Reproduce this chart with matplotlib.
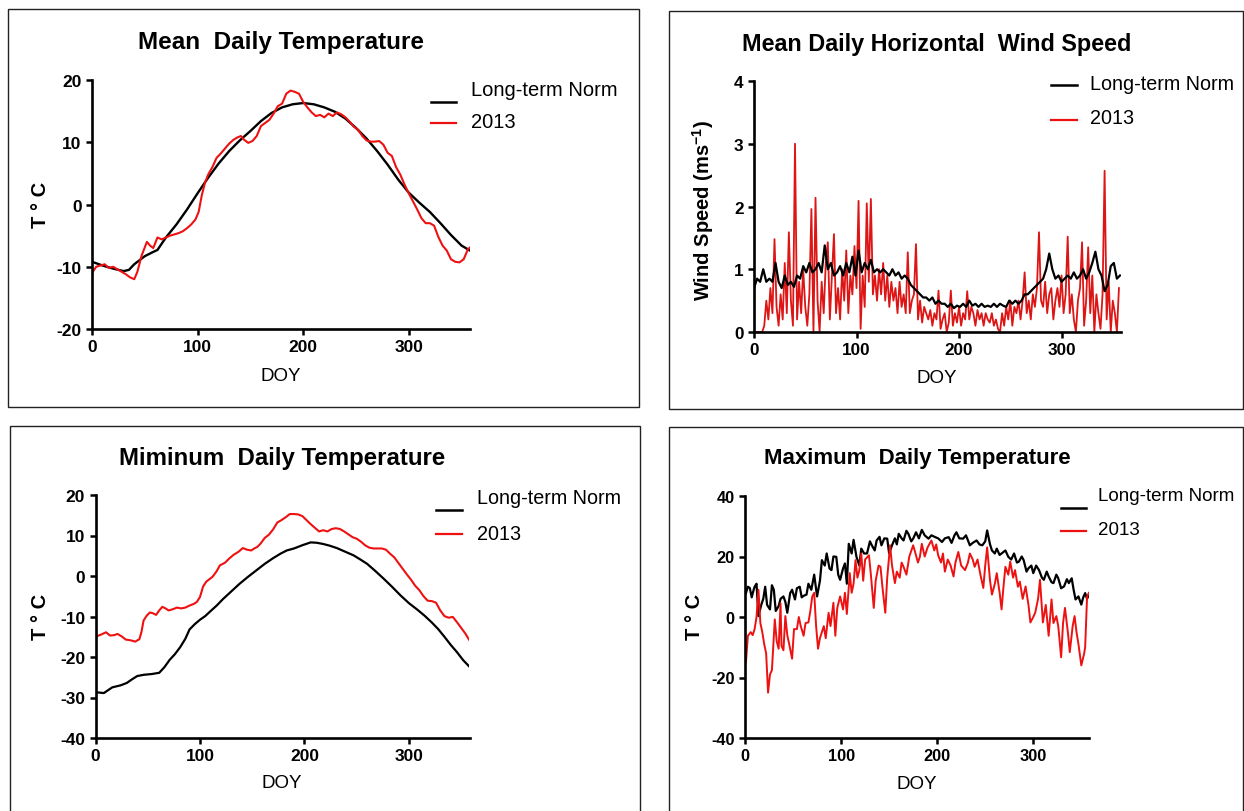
import matplotlib
matplotlib.use("Agg")
import matplotlib.pyplot as plt
from matplotlib.lines import Line2D
from matplotlib.patches import Rectangle

plt.rcParams['font.family'] = ['Liberation Sans', 'DejaVu Sans']
plt.rcParams['mathtext.fontset'] = 'custom'
plt.rcParams['mathtext.rm'] = 'Liberation Sans'
plt.rcParams['mathtext.bf'] = 'Liberation Sans:bold'
plt.rcParams['axes.unicode_minus'] = False

# ---------------- data ----------------
series_labels = ["Long-term Norm", "2013"]
x_ticks = [0, 100, 200, 300]

mean_norm_doy = [0, 10, 20, 30, 35, 40, 50, 57, 62, 70, 80, 90, 100, 110, 120, 130, 140, 150, 160, 170,
                 180, 190, 200, 210, 220, 230, 240, 250, 260, 270, 280, 290, 300, 310, 320, 330, 340, 350, 358]
mean_norm = [-9.2, -9.8, -10.3, -10.7, -10.5, -9.6, -8.3, -7.7, -7.3, -5.3, -3.2, -0.8, 1.8, 4.3, 6.6, 8.6,
             10.3, 11.8, 13.4, 14.7, 15.6, 16.1, 16.3, 16.1, 15.6, 14.9, 13.8, 12.3, 10.6, 8.6, 6.4, 4.0,
             1.9, 0.3, -1.2, -3.0, -4.9, -6.6, -7.4]

mean_2013_doy = [0, 4, 8, 12, 16, 20, 24, 28, 32, 36, 40, 43, 47, 52, 55, 58, 62, 66, 70, 74, 78, 82, 86,
                 90, 94, 98, 101, 104, 107, 110, 114, 118, 122, 126, 130, 134, 138, 141, 144, 148, 152,
                 156, 160, 164, 168, 172, 176, 180, 184, 188, 192, 196, 200, 204, 208, 212, 216, 220, 224,
                 228, 232, 236, 240, 244, 248, 252, 256, 260, 264, 268, 272, 276, 280, 284, 288, 292, 296,
                 300, 304, 308, 312, 316, 320, 324, 328, 332, 336, 340, 344, 348, 352, 356, 358]
mean_2013 = [-11.0, -10.0, -9.8, -9.6, -10.2, -10.0, -10.4, -10.8, -11.2, -11.7, -12.0, -10.8, -8.2, -6.0,
             -6.6, -7.0, -5.3, -5.6, -5.3, -5.0, -4.8, -4.6, -4.3, -3.8, -3.2, -2.4, -1.2, 1.5, 3.5, 4.8,
             6.0, 7.5, 8.2, 9.0, 9.8, 10.4, 10.8, 11.0, 10.4, 9.9, 10.2, 11.0, 12.6, 13.1, 13.6, 14.6,
             15.8, 16.2, 17.8, 18.3, 18.1, 17.8, 16.5, 15.6, 14.8, 14.2, 14.4, 14.0, 14.6, 14.2, 14.8,
             14.5, 14.0, 13.3, 12.5, 12.0, 11.0, 10.3, 10.1, 10.1, 10.2, 9.6, 8.3, 7.8, 6.0, 4.8, 3.2,
             1.8, 0.5, -0.8, -2.2, -3.0, -3.0, -3.4, -5.2, -6.6, -7.4, -8.8, -9.2, -9.3, -8.8, -7.2, -6.9]

wind_norm_doy = list(range(0, 358, 3))
wind_norm = [0.7, 0.85, 0.8, 1.0, 0.8, 0.85, 0.8, 1.1, 0.8, 0.7, 0.9, 0.75, 0.8, 0.72, 0.9, 0.85, 1.05,
             0.95, 1.1, 0.95, 1.0, 1.1, 0.95, 1.38, 1.0, 1.1, 0.9, 0.95, 1.05, 0.9, 1.1, 0.95, 1.2, 0.9,
             1.3, 0.95, 1.1, 1.0, 1.15, 0.95, 1.0, 0.95, 1.0, 0.95, 0.9, 1.0, 0.9, 0.95, 0.85, 0.9, 0.85,
             0.75, 0.7, 0.65, 0.6, 0.55, 0.55, 0.5, 0.55, 0.45, 0.5, 0.45, 0.45, 0.4, 0.45, 0.38, 0.42,
             0.4, 0.45, 0.4, 0.5, 0.42, 0.45, 0.4, 0.45, 0.4, 0.42, 0.4, 0.45, 0.4, 0.45, 0.42, 0.4, 0.5,
             0.45, 0.5, 0.45, 0.5, 0.6, 0.6, 0.65, 0.7, 0.75, 0.8, 0.85, 1.0, 1.25, 1.0, 0.85, 0.9, 0.8,
             0.85, 0.9, 0.85, 0.95, 0.85, 0.9, 1.0, 0.85, 0.95, 1.1, 1.28, 1.0, 0.9, 0.65, 0.75, 1.05,
             1.1, 0.85, 0.9]

wind_2013_doy = list(range(0, 357, 2))
wind_2013 = [0.0, 0.0, 0.0, 0.0, 0.0, 0.1, 0.5, 0.2, 0.7, 0.3,
             1.48, 0.4, 0.1, 0.6, 0.2, 1.1, 0.3, 1.59, 0.5, 0.1,
             3.0, 0.2, 0.8, 0.3, 1.0, 0.4, 0.1, 0.6, 1.96, 0.0,
             2.14, 0.5, 0.0, 0.8, 0.3, 1.1, 1.43, 0.2, 0.9, 1.56,
             0.3, 0.7, 0.2, 1.0, 0.5, 1.3, 0.3, 0.9, 0.6, 1.37,
             0.7, 2.09, 0.05, 0.9, 0.4, 2.05, 0.8, 2.12, 0.6, 0.9,
             0.5, 1.0, 0.6, 1.1, 0.5, 0.9, 0.4, 0.8, 0.5, 0.7,
             0.3, 0.8, 0.4, 0.6, 0.3, 1.27, 0.3, 0.5, 0.6, 1.4,
             0.2, 0.5, 0.15, 0.4, 0.3, 0.2, 0.35, 0.1, 0.3, 0.2,
             0.66, 0.05, 0.2, 0.3, 0.0, 0.15, 0.66, 0.1, 0.3, 0.15,
             0.4, 0.1, 0.3, 0.2, 0.65, 0.2, 0.4, 0.3, 0.1, 0.35,
             0.2, 0.3, 0.1, 0.3, 0.2, 0.15, 0.3, 0.1, 0.2, 0.05,
             0.0, 0.3, 0.1, 0.4, 0.2, 0.5, 0.1, 0.4, 0.3, 0.5,
             0.2, 0.5, 0.95, 0.3, 0.5, 0.2, 0.6, 0.4, 0.7, 1.59,
             0.5, 0.4, 0.8, 0.3, 0.6, 0.7, 0.2, 0.5, 0.7, 0.4,
             0.9, 0.3, 0.6, 1.52, 0.3, 0.6, 0.2, 0.0, 0.5, 0.7,
             1.43, 0.1, 0.5, 1.35, 0.3, 0.9, 0.0, 0.6, 0.3, 0.05,
             0.6, 2.57, 0.2, 0.8, 0.0, 0.5, 0.3, 0.0, 0.7]

min_norm_doy = [0, 8, 16, 24, 30, 35, 40, 46, 54, 61, 66, 71, 76, 81, 86, 90, 95, 100, 105, 110, 116,
                122, 130, 138, 146, 154, 162, 170, 177, 183, 190, 198, 206, 212, 218, 224, 231, 239, 247,
                254, 260, 268, 276, 284, 292, 300, 308, 315, 322, 328, 334, 340, 346, 352, 358]
min_norm = [-28.7, -28.9, -27.5, -27.0, -26.4, -25.5, -24.7, -24.4, -24.2, -23.9, -22.5, -20.7, -19.3,
            -17.6, -15.5, -13.2, -11.9, -10.8, -9.9, -8.7, -7.3, -5.7, -3.8, -1.9, -0.2, 1.4, 3.0, 4.4,
            5.5, 6.3, 6.8, 7.6, 8.3, 8.2, 7.9, 7.5, 6.9, 6.0, 5.1, 4.0, 3.0, 1.2, -0.7, -2.7, -4.8, -6.7,
            -8.3, -9.8, -11.5, -13.1, -15.0, -17.0, -18.8, -20.8, -22.4]

min_2013_doy = [0, 5, 10, 14, 18, 21, 25, 29, 34, 38, 42, 44, 46, 49, 52, 55, 58, 61, 64, 67, 70, 74, 78,
                82, 86, 90, 94, 97, 100, 103, 106, 109, 112, 116, 119, 124, 128, 132, 137, 141, 145, 149,
                152, 155, 158, 162, 166, 170, 174, 178, 182, 186, 190, 194, 198, 202, 206, 210, 214, 218,
                222, 226, 230, 234, 238, 242, 246, 250, 254, 258, 262, 266, 270, 274, 278, 282, 286, 290,
                294, 298, 302, 306, 310, 314, 318, 322, 326, 330, 334, 338, 342, 346, 350, 354, 358]
min_2013 = [-15.0, -14.5, -13.9, -14.7, -14.6, -14.3, -14.9, -15.7, -15.9, -16.2, -15.6, -13.8, -11.0,
            -9.8, -9.0, -9.2, -9.6, -8.5, -7.6, -8.0, -8.5, -8.2, -7.8, -8.0, -7.8, -7.3, -6.9, -6.4,
            -5.2, -2.6, -1.4, -0.8, -0.2, 1.2, 2.6, 3.3, 4.3, 5.2, 6.0, 6.9, 6.5, 6.3, 6.8, 7.2, 8.0,
            9.4, 10.2, 11.5, 13.2, 13.8, 14.5, 15.3, 15.3, 15.2, 14.8, 13.8, 12.8, 11.9, 11.0, 11.3,
            11.0, 11.6, 11.8, 11.6, 11.0, 10.3, 9.6, 9.2, 8.5, 7.6, 7.0, 6.8, 6.8, 6.8, 6.5, 5.5, 4.6,
            3.2, 1.8, 0.4, -0.9, -2.4, -3.5, -5.0, -6.1, -6.2, -6.6, -8.5, -9.9, -10.3, -10.1, -11.4,
            -12.8, -14.2, -15.9]

max_norm_doy = [1, 3, 5, 7, 9, 10, 12, 14, 17, 19, 21, 23, 26, 28, 30, 32, 35, 37, 40, 42, 44, 47, 49,
                52, 54, 57, 59, 61, 64, 66, 69, 72, 75, 78, 80, 83, 85, 88, 90, 92, 95, 97, 99, 102, 104,
                106, 108, 111, 113, 116, 119, 121, 124, 127, 130, 132, 135, 137, 140, 142, 145, 148, 150,
                153, 156, 158, 160, 163, 165, 168, 170, 173, 175, 178, 181, 184, 187, 191, 194, 198, 201,
                205, 208, 212, 215, 218, 220, 223, 227, 230, 234, 237, 241, 244, 247, 250, 252, 255, 257,
                260, 262, 265, 267, 271, 274, 277, 280, 283, 285, 288, 290, 293, 295, 298, 300, 303, 306,
                309, 311, 314, 316, 319, 321, 324, 326, 329, 332, 335, 337, 340, 342, 344, 347, 350, 352,
                354, 356, 358]
max_norm = [7.9, 10.0, 9.6, 6.5, 9.0, 10.0, 11.0, 0.3, 4.1, 6.0, 10.0, 4.0, 2.5, 10.5, 9.0, 2.0, 3.6, 6.0,
            6.8, 5.0, 1.4, 7.9, 9.0, 5.8, 9.5, 10.0, 6.5, 7.0, 7.4, 11.0, 9.0, 14.0, 6.8, 12.0, 18.8,
            17.0, 21.0, 16.0, 15.5, 20.0, 19.9, 14.0, 12.3, 16.0, 17.7, 11.0, 24.2, 21.0, 25.5, 19.9,
            17.0, 22.6, 21.0, 21.0, 25.0, 23.7, 22.0, 25.3, 26.5, 23.7, 26.0, 25.9, 21.0, 23.7, 26.0,
            24.0, 27.5, 26.0, 25.3, 28.5, 27.5, 25.0, 25.9, 28.0, 26.0, 28.8, 27.0, 25.9, 27.0, 26.4,
            26.0, 24.8, 26.0, 26.4, 24.5, 27.0, 28.0, 26.0, 25.9, 27.0, 23.7, 24.5, 25.3, 24.0, 23.7,
            25.0, 28.6, 24.0, 22.0, 21.0, 22.6, 20.5, 21.0, 22.0, 19.9, 19.0, 21.0, 18.0, 18.3, 20.0,
            18.8, 15.0, 16.1, 17.0, 14.5, 17.0, 15.5, 13.0, 12.3, 15.0, 13.4, 11.5, 11.2, 14.0, 12.8,
            9.5, 10.1, 12.5, 11.2, 12.8, 9.0, 5.8, 6.8, 4.1, 6.5, 7.9, 6.0, 7.5]

max_2013_doy = [1, 3, 6, 8, 10, 12, 14, 16, 18, 20, 22, 24, 26, 28, 31, 33, 35, 37, 38, 40, 42, 44, 46,
                49, 51, 54, 56, 58, 61, 63, 66, 68, 70, 72, 74, 76, 78, 80, 82, 84, 87, 89, 92, 94, 96,
                99, 102, 104, 106, 109, 111, 113, 115, 117, 119, 121, 123, 125, 129, 131, 134, 136, 139,
                141, 143, 146, 148, 151, 153, 156, 158, 161, 163, 165, 168, 171, 175, 177, 180, 182, 184,
                187, 190, 194, 197, 199, 201, 204, 206, 208, 211, 214, 217, 219, 222, 225, 229, 232, 234,
                237, 239, 242, 245, 248, 250, 252, 255, 257, 260, 262, 265, 267, 269, 271, 274, 276, 279,
                281, 284, 286, 289, 292, 295, 297, 300, 302, 305, 307, 309, 310, 313, 316, 319, 321, 324,
                326, 329, 331, 333, 336, 338, 341, 343, 345, 347, 350, 353, 354, 356, 358]
max_2013 = [-14.9, -6.2, -5.0, -6.0, -4.0, 0.0, 9.0, -2.0, -5.0, -9.0, -12.0, -25.0, -19.0, -17.6, -0.8,
            -8.0, -10.5, 4.5, -9.5, -11.0, 0.3, -6.0, -9.0, -13.8, -4.0, -4.0, 0.0, -3.0, -6.2, -2.0,
            -1.8, 2.0, 6.8, 8.0, -3.0, -10.5, -7.0, -5.0, -3.0, -7.0, 1.4, -3.0, 4.7, -6.2, 3.0, 6.8,
            2.5, 8.0, 1.0, 14.5, 8.0, 11.0, 18.8, 13.0, 15.5, 21.0, 12.0, 19.0, 20.4, 14.0, 3.0, 12.0,
            17.0, 16.6, 10.0, 1.4, 13.0, 23.7, 17.0, 11.2, 15.0, 13.0, 18.0, 16.6, 14.0, 20.0, 23.7,
            21.5, 18.0, 19.9, 24.2, 20.0, 23.0, 25.3, 22.0, 24.0, 20.4, 18.0, 21.0, 15.0, 19.0, 17.0,
            13.4, 18.0, 21.5, 17.0, 15.5, 18.0, 21.0, 19.0, 16.6, 19.0, 14.0, 9.6, 17.0, 23.0, 12.0,
            7.4, 11.0, 14.5, 8.0, 2.5, 10.0, 16.6, 14.0, 18.3, 13.0, 15.5, 10.0, 11.7, 6.0, 10.1, 4.0,
            -1.8, 0.0, 1.4, 6.0, 12.3, 3.0, -1.8, 4.0, -6.2, 5.8, -2.0, 0.3, -3.0, -13.3, -2.0, 3.0,
            -5.0, -11.6, -3.0, 0.3, -5.0, -8.9, -16.0, -12.0, -10.0, 6.8, 8.0]

# ---------------- layout ----------------
W, H = 1244, 812
fig = plt.figure(figsize=(W / 100, H / 100), dpi=100)

def fx(p):
    return p / W

def fy(p):
    return 1 - p / H

def box(l, t, r, b):
    fig.add_artist(Rectangle((fx(l), fy(b)), fx(r) - fx(l), fy(t) - fy(b),
                             transform=fig.transFigure, fill=False, lw=1.0, ec='#222222'))

def make_axes(l, t, r, b, xlim, ylim, yticks, tick_fs):
    ax = fig.add_axes([fx(l), fy(b), fx(r) - fx(l), fy(t) - fy(b)])
    ax.set_xlim(*xlim)
    ax.set_ylim(*ylim)
    ax.set_xticks(x_ticks)
    ax.set_yticks(yticks)
    for s in ['top', 'right']:
        ax.spines[s].set_visible(False)
    for s in ['left', 'bottom']:
        ax.spines[s].set_linewidth(1.9)
    ax.tick_params(direction='out', length=4.5, width=1.8, labelsize=tick_fs, pad=3)
    for lab in ax.get_xticklabels() + ax.get_yticklabels():
        lab.set_fontweight('bold')
    ax.patch.set_alpha(0)
    return ax

def legend(line_x0, line_x1, text_x, y_text1, y_line1, y_text2, y_line2, fs):
    fig.add_artist(Line2D([fx(line_x0), fx(line_x1)], [fy(y_line1), fy(y_line1)],
                          transform=fig.transFigure, color='black', lw=1.8))
    fig.add_artist(Line2D([fx(line_x0), fx(line_x1)], [fy(y_line2), fy(y_line2)],
                          transform=fig.transFigure, color='#ee1111', lw=1.6))
    fig.text(fx(text_x), fy(y_text1), series_labels[0], fontsize=fs, va='center', ha='left')
    fig.text(fx(text_x), fy(y_text2), series_labels[1], fontsize=fs, va='center', ha='left')

# Panel 1: mean
box(8, 10, 639, 408)
ax1 = make_axes(92, 81, 470, 330, (0, 358), (-20, 20), [-20, -10, 0, 10, 20], 12.5)
ax1.plot(mean_norm_doy, mean_norm, color='black', lw=1.7)
ax1.plot(mean_2013_doy, mean_2013, color='#ee1111', lw=1.5)
fig.text(fx(281), fy(42), "Mean  Daily Temperature", fontsize=17.5, fontweight='bold', ha='center', va='center')
fig.text(fx(40), fy(205), "T \u00b0 C", fontsize=14.5, fontweight='bold', rotation=90, ha='center', va='center')
fig.text(fx(281), fy(377), "DOY", fontsize=13.5, ha='center', va='center')
legend(431, 456, 471, 90, 103, 122, 124, 14.5)

# Panel 2: wind
box(669, 12, 1243, 410)
ax2 = make_axes(754, 82, 1121, 333, (0, 358), (0, 4), [0, 1, 2, 3, 4], 12.3)
ax2.plot(wind_2013_doy, wind_2013, color='#dd1515', lw=1.3)
ax2.plot(wind_norm_doy, wind_norm, color='black', lw=1.6)
fig.text(fx(937), fy(45), "Mean Daily Horizontal  Wind Speed", fontsize=16.8, fontweight='bold', ha='center', va='center')
fig.text(fx(703), fy(210), r"Wind Speed (ms$^{\mathbf{-1}}$)", fontsize=14.5, fontweight='bold', rotation=90, ha='center', va='center')
fig.text(fx(937), fy(379), "DOY", fontsize=13.5, ha='center', va='center')
legend(1051, 1077, 1090, 85, 86, 119, 121, 14.2)

# Panel 3: min
box(10, 427, 640, 815)
ax3 = make_axes(95.5, 496, 469.5, 739, (0, 358), (-40, 20), [-40, -30, -20, -10, 0, 10, 20], 12.5)
ax3.plot(min_norm_doy, min_norm, color='black', lw=1.6)
ax3.plot(min_2013_doy, min_2013, color='#ee1111', lw=1.5)
fig.text(fx(282), fy(459), "Miminum  Daily Temperature", fontsize=17.3, fontweight='bold', ha='center', va='center')
fig.text(fx(41), fy(617), "T \u00b0 C", fontsize=14.5, fontweight='bold', rotation=90, ha='center', va='center')
fig.text(fx(282), fy(784), "DOY", fontsize=13.5, ha='center', va='center')
legend(436, 462, 477, 499, 511, 534, 535, 14.2)

# Panel 4: max
box(669, 428, 1243, 815)
ax4 = make_axes(745, 497, 1089, 739, (0, 358), (-40, 40), [-40, -20, 0, 20, 40], 11.8)
ax4.plot(max_norm_doy, max_norm, color='black', lw=1.6)
ax4.plot(max_2013_doy, max_2013, color='#ee1111', lw=1.4)
fig.text(fx(917), fy(459), "Maximum  Daily Temperature", fontsize=16, fontweight='bold', ha='center', va='center')
fig.text(fx(694), fy(617), "T \u00b0 C", fontsize=14.5, fontweight='bold', rotation=90, ha='center', va='center')
fig.text(fx(917), fy(785), "DOY", fontsize=13.5, ha='center', va='center')
legend(1061, 1086, 1098, 497, 509, 531, 532, 13.5)

fig.savefig("out.png", dpi=100)
